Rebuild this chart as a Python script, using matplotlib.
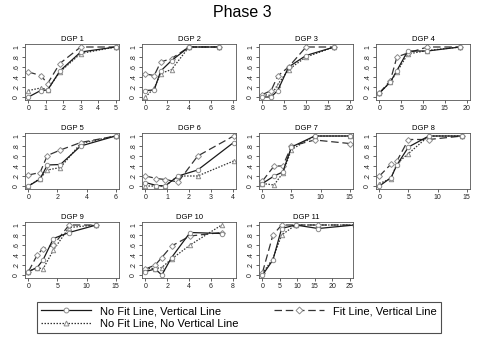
import matplotlib
matplotlib.use("Agg")
import matplotlib.pyplot as plt
from matplotlib.lines import Line2D

# --- data (x per series, y = proportion) ---
# each entry: (solid x, solid y), (dashed x, dashed y), (dotted x, dotted y)
DGP1_X = [0, 0.7, 1.1, 1.8, 3, 5]
DGP1_SOLID = [0.0, 0.13, 0.14, 0.52, 0.90, 1.0]
DGP1_DASH = [0.50, 0.43, 0.27, 0.67, 1.0, 1.0]
DGP1_DOT = [0.13, 0.18, 0.15, 0.50, 0.87, 1.0]

DGP2_X = [0, 0.8, 1.4, 2.4, 4, 6.8]
DGP2_SOLID = [0.13, 0.14, 0.52, 0.73, 1.0, 1.0]
DGP2_DASH = [0.46, 0.43, 0.70, 0.77, 1.0, 1.0]
DGP2_DOT = [0.0, 0.18, 0.47, 0.55, 1.0, 1.0]

DGP3_X = [0, 2, 3.5, 6, 10, 16.5]
DGP3_SOLID = [0.0, 0.0, 0.13, 0.60, 0.83, 1.0]
DGP3_DASH = [0.05, 0.13, 0.42, 0.60, 1.0, 1.0]
DGP3_DOT = [0.05, 0.03, 0.25, 0.55, 0.80, 1.0]

DGP4_X = [0, 2.5, 4, 6.5, 11, 18.5]
DGP4_SOLID = [0.08, 0.30, 0.53, 0.92, 0.92, 1.0]
DGP4_DASH = [0.08, 0.33, 0.80, 0.88, 1.0, 1.0]
DGP4_DOT = [0.08, 0.30, 0.50, 0.86, 0.93, 1.0]

DGP5_X = [0, 0.8, 1.3, 2.2, 3.6, 6]
DGP5_SOLID = [0.0, 0.14, 0.42, 0.43, 0.80, 1.0]
DGP5_DASH = [0.22, 0.27, 0.61, 0.72, 0.87, 1.0]
DGP5_DOT = [0.0, 0.15, 0.32, 0.37, 0.85, 1.0]

DGP6_X = [0, 0.5, 0.9, 1.5, 2.4, 4.05]
DGP6_SOLID = [0.07, 0.01, 0.0, 0.20, 0.32, 0.87]
DGP6_DASH = [0.20, 0.15, 0.13, 0.08, 0.60, 1.0]
DGP6_DOT = [0.0, 0.0, 0.0, 0.20, 0.20, 0.50]

DGP7_X = [0, 2, 3.5, 5, 9, 15]
DGP7_SOLID = [0.05, 0.20, 0.28, 0.78, 1.0, 1.0]
DGP7_DASH = [0.10, 0.40, 0.40, 0.80, 0.92, 0.85]
DGP7_DOT = [0.05, 0.02, 0.26, 0.73, 1.0, 1.0]

DGP8_X = [0, 2, 3, 5, 8.5, 14.3]
DGP8_SOLID = [0.0, 0.17, 0.42, 0.78, 1.0, 1.0]
DGP8_DASH = [0.20, 0.44, 0.50, 0.93, 0.93, 1.0]
DGP8_DOT = [0.05, 0.15, 0.45, 0.65, 1.0, 1.0]

DGP9_X = [0, 1.5, 2.5, 4.3, 7, 11.7]
DGP9_SOLID = [0.07, 0.15, 0.30, 0.73, 0.85, 1.0]
DGP9_DASH = [0.07, 0.40, 0.53, 0.60, 1.0, 1.0]
DGP9_DOT = [0.07, 0.15, 0.12, 0.50, 0.95, 1.0]

DGP10_X = [0, 0.9, 1.5, 2.4, 4.1, 7]
DGP10_SOLID = [0.07, 0.12, 0.0, 0.35, 0.85, 0.83]
DGP10_DASH = [0.12, 0.20, 0.35, 0.58, 0.78, 0.85]
DGP10_DOT = [0.13, 0.13, 0.15, 0.32, 0.60, 1.0]

DGP11_X = [0, 3, 5.5, 9.5, 16, 26.5]
DGP11_SOLID = [0.0, 0.30, 0.93, 1.0, 0.93, 1.0]
DGP11_DASH = [0.05, 0.80, 1.0, 1.0, 1.0, 1.0]
DGP11_DOT = [0.03, 0.33, 0.80, 1.0, 1.0, 1.0]

PANELS = [
    ("DGP 1", DGP1_X, DGP1_SOLID, DGP1_DASH, DGP1_DOT, [0, 1, 2, 3, 4, 5]),
    ("DGP 2", DGP2_X, DGP2_SOLID, DGP2_DASH, DGP2_DOT, [0, 2, 4, 6, 8]),
    ("DGP 3", DGP3_X, DGP3_SOLID, DGP3_DASH, DGP3_DOT, [0, 5, 10, 15, 20]),
    ("DGP 4", DGP4_X, DGP4_SOLID, DGP4_DASH, DGP4_DOT, [0, 5, 10, 15, 20]),
    ("DGP 5", DGP5_X, DGP5_SOLID, DGP5_DASH, DGP5_DOT, [0, 2, 4, 6]),
    ("DGP 6", DGP6_X, DGP6_SOLID, DGP6_DASH, DGP6_DOT, [0, 1, 2, 3, 4]),
    ("DGP 7", DGP7_X, DGP7_SOLID, DGP7_DASH, DGP7_DOT, [0, 5, 10, 15]),
    ("DGP 8", DGP8_X, DGP8_SOLID, DGP8_DASH, DGP8_DOT, [0, 5, 10, 15]),
    ("DGP 9", DGP9_X, DGP9_SOLID, DGP9_DASH, DGP9_DOT, [0, 5, 10, 15]),
    ("DGP 10", DGP10_X, DGP10_SOLID, DGP10_DASH, DGP10_DOT, [0, 2, 4, 6, 8]),
    ("DGP 11", DGP11_X, DGP11_SOLID, DGP11_DASH, DGP11_DOT, [0, 5, 10, 15, 20, 25]),
]

Y_TICKS = [0, 0.2, 0.4, 0.6, 0.8, 1.0]
Y_LABELS = ["0", ".2", ".4", ".6", ".8", "1"]

MARK_C = "#8c8c8c"
LINE_C = "#1a1a1a"
STYLES = {
    "solid": dict(ls="-", marker="o", lw=0.9, color=LINE_C),
    "dash": dict(ls=(0, (6, 3)), marker="D", lw=0.9, color="#333333"),
    "dot": dict(ls=(0, (1.2, 1.2)), marker="^", lw=0.9, color="#333333"),
}

plt.rcParams["font.family"] = ["Liberation Sans", "DejaVu Sans"]
fig = plt.figure(figsize=(4.85, 3.52), dpi=100)
fig.text(0.5, 0.965, "Phase 3", ha="center", va="center", fontsize=11.5)

W, H = 485.0, 352.0
col_left = [25, 142, 259, 376]
row_bottom = [100, 189, 278]
pw, ph = 94, 56

for i, (title, xs, ys_s, ys_d, ys_t, xt) in enumerate(PANELS):
    r, c = divmod(i, 4)
    ax = fig.add_axes([col_left[c] / W, 1 - row_bottom[r] / H, pw / W, ph / H])
    for key, ys, ms in (("dot", ys_t, 3.2), ("dash", ys_d, 3.0), ("solid", ys_s, 3.2)):
        st = STYLES[key]
        ax.plot(xs, ys, ls=st["ls"], lw=st["lw"], color=st["color"],
                marker=st["marker"], ms=ms, mfc="white", mec=MARK_C, mew=0.7)
    span = xt[-1] - xt[0]
    ax.set_xlim(xt[0] - 0.04 * span, xt[-1] + 0.04 * span)
    ax.set_ylim(-0.06, 1.06)
    ax.set_xticks(xt)
    ax.set_xticklabels([str(v) for v in xt], fontsize=5)
    ax.set_yticks(Y_TICKS)
    ax.set_yticklabels(Y_LABELS, fontsize=5, rotation=90, va="center")
    ax.tick_params(length=2, width=0.5, pad=1.5, colors="#222222")
    for sp in ax.spines.values():
        sp.set_linewidth(0.6)
        sp.set_color("#555555")
    ax.set_title(title, fontsize=5.5, pad=2)

handles = []
labels = ["No Fit Line, Vertical Line", "No Fit Line, No Vertical Line",
          "Fit Line, Vertical Line"]
for key, ms in (("solid", 3.5), ("dot", 3.5), ("dash", 3.5)):
    st = STYLES[key]
    handles.append(Line2D([], [], ls=st["ls"], lw=0.9, color=st["color"],
                          marker=st["marker"], ms=ms, mfc="white", mec=MARK_C, mew=0.7))
leg = fig.legend(handles, labels, ncol=2, loc="lower left",
                 bbox_to_anchor=(37 / W, 1 - 333 / H, 404 / W, 33 / H),
                 mode="expand", fontsize=8, frameon=True, fancybox=False,
                 handlelength=4.5, borderaxespad=0, labelspacing=0.2,
                 handletextpad=0.8, columnspacing=1.0)
leg.get_frame().set_edgecolor("#222222")
leg.get_frame().set_linewidth(0.8)

fig.savefig("out.png", dpi=100)
